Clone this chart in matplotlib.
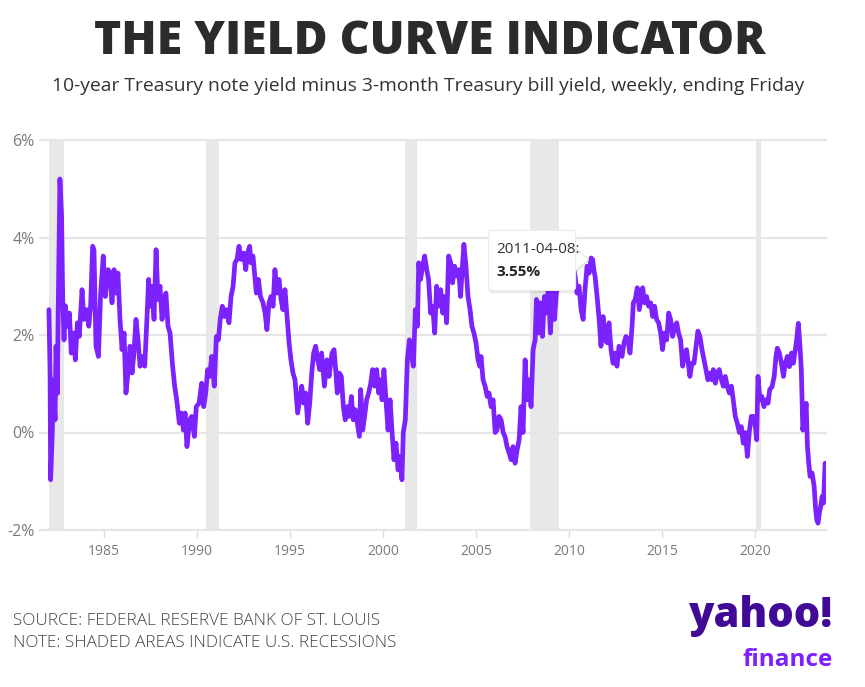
""" Yield curve indicator: 10y minus 3m Treasury spread, weekly """

import numpy as np
import matplotlib
matplotlib.use("Agg")
import matplotlib.pyplot as plt
from matplotlib.patches import Polygon, FancyBboxPatch
from matplotlib.transforms import IdentityTransform
import matplotlib.patheffects as pe

plt.rcParams['font.family'] = ['Open Sans', 'DejaVu Sans']

# decimal year of each reading
dates = [
    1982.04, 1982.10, 1982.13, 1982.22, 1982.28, 1982.37, 1982.42, 1982.49, 1982.54, 1982.63,
    1982.72, 1982.78, 1982.85, 1982.92, 1983.03, 1983.14, 1983.24, 1983.35, 1983.46, 1983.57,
    1983.67, 1983.82, 1983.92, 1984.07, 1984.18, 1984.28, 1984.39, 1984.46, 1984.57, 1984.70,
    1984.82, 1984.96, 1985.07, 1985.22, 1985.32, 1985.43, 1985.54, 1985.65, 1985.75, 1985.86,
    1985.97, 1986.08, 1986.18, 1986.29, 1986.40, 1986.51, 1986.61, 1986.72, 1986.83, 1986.94,
    1987.04, 1987.19, 1987.29, 1987.40, 1987.47, 1987.58, 1987.69, 1987.80, 1987.90, 1988.01,
    1988.12, 1988.23, 1988.33, 1988.44, 1988.55, 1988.69, 1988.80, 1988.91, 1989.05, 1989.16,
    1989.27, 1989.36, 1989.46, 1989.61, 1989.71, 1989.86, 1989.96, 1990.11, 1990.25, 1990.36,
    1990.47, 1990.57, 1990.68, 1990.79, 1990.93, 1991.04, 1991.15, 1991.25, 1991.36, 1991.47,
    1991.58, 1991.72, 1991.83, 1991.94, 1992.04, 1992.15, 1992.26, 1992.37, 1992.51, 1992.62,
    1992.72, 1992.83, 1992.90, 1993.01, 1993.12, 1993.19, 1993.30, 1993.41, 1993.55, 1993.66,
    1993.76, 1993.87, 1993.98, 1994.09, 1994.19, 1994.30, 1994.41, 1994.52, 1994.62, 1994.73,
    1994.84, 1994.95, 1995.05, 1995.16, 1995.27, 1995.41, 1995.52, 1995.63, 1995.74, 1995.84,
    1995.95, 1996.06, 1996.17, 1996.27, 1996.38, 1996.49, 1996.60, 1996.70, 1996.85, 1996.99,
    1997.10, 1997.26, 1997.37, 1997.47, 1997.54, 1997.65, 1997.76, 1997.87, 1997.97, 1998.08,
    1998.19, 1998.30, 1998.40, 1998.51, 1998.62, 1998.73, 1998.80, 1998.91, 1999.01, 1999.12,
    1999.23, 1999.34, 1999.44, 1999.55, 1999.66, 1999.77, 1999.87, 1999.95, 2000.05, 2000.16,
    2000.27, 2000.38, 2000.48, 2000.59, 2000.70, 2000.81, 2000.91, 2001.02, 2001.09, 2001.20,
    2001.31, 2001.42, 2001.52, 2001.63, 2001.74, 2001.85, 2001.92, 2002.02, 2002.13, 2002.24,
    2002.35, 2002.45, 2002.56, 2002.67, 2002.78, 2002.88, 2002.99, 2003.10, 2003.21, 2003.31,
    2003.42, 2003.53, 2003.64, 2003.74, 2003.85, 2003.96, 2004.07, 2004.17, 2004.28, 2004.35,
    2004.46, 2004.57, 2004.68, 2004.78, 2004.89, 2005.00, 2005.11, 2005.20, 2005.27, 2005.38,
    2005.49, 2005.60, 2005.70, 2005.81, 2005.92, 2006.03, 2006.13, 2006.24, 2006.35, 2006.46,
    2006.56, 2006.67, 2006.78, 2006.89, 2006.99, 2007.10, 2007.21, 2007.32, 2007.42, 2007.53,
    2007.64, 2007.75, 2007.85, 2007.96, 2008.07, 2008.18, 2008.25, 2008.35, 2008.46, 2008.57,
    2008.68, 2008.79, 2008.89, 2009.00, 2009.11, 2009.22, 2009.32, 2009.45, 2009.60, 2009.75,
    2009.90, 2010.05, 2010.20, 2010.33, 2010.43, 2010.54, 2010.65, 2010.76, 2010.86, 2010.97,
    2011.08, 2011.19, 2011.27, 2011.35, 2011.40, 2011.51, 2011.62, 2011.72, 2011.83, 2011.94,
    2012.05, 2012.15, 2012.26, 2012.37, 2012.48, 2012.58, 2012.69, 2012.85, 2012.96, 2013.06,
    2013.17, 2013.28, 2013.39, 2013.46, 2013.56, 2013.67, 2013.78, 2013.89, 2013.96, 2014.07,
    2014.17, 2014.28, 2014.39, 2014.50, 2014.60, 2014.71, 2014.82, 2014.93, 2015.03, 2015.14,
    2015.25, 2015.36, 2015.46, 2015.57, 2015.68, 2015.79, 2015.89, 2016.00, 2016.11, 2016.22,
    2016.32, 2016.43, 2016.50, 2016.61, 2016.72, 2016.83, 2016.93, 2017.04, 2017.15, 2017.26,
    2017.36, 2017.47, 2017.58, 2017.69, 2017.76, 2017.87, 2017.97, 2018.08, 2018.19, 2018.30,
    2018.40, 2018.51, 2018.62, 2018.73, 2018.83, 2018.94, 2019.05, 2019.16, 2019.26, 2019.37,
    2019.48, 2019.59, 2019.69, 2019.80, 2019.91, 2020.02, 2020.09, 2020.16, 2020.27, 2020.37,
    2020.48, 2020.59, 2020.70, 2020.79, 2020.92, 2021.03, 2021.13, 2021.20, 2021.31, 2021.42,
    2021.53, 2021.63, 2021.74, 2021.85, 2021.96, 2022.06, 2022.17, 2022.24, 2022.33, 2022.42,
    2022.49, 2022.57, 2022.67, 2022.75, 2022.82, 2022.89, 2022.96, 2023.07, 2023.18, 2023.25,
    2023.32, 2023.39, 2023.46, 2023.53, 2023.61, 2023.68, 2023.77,
]

# 10-year minus 3-month spread, percentage points
spread = [
    2.52, 1.22, -0.97, 0.00, 1.08, 0.26, 1.77, 0.80, 2.60, 5.20,
    4.44, 2.73, 1.90, 2.60, 2.18, 2.45, 1.63, 2.04, 1.49, 2.25,
    1.97, 2.93, 2.32, 2.52, 2.18, 2.59, 3.82, 3.75, 1.77, 1.56,
    2.86, 3.62, 2.79, 3.34, 3.27, 2.66, 3.34, 2.86, 3.27, 2.32,
    1.70, 2.04, 0.81, 1.22, 1.77, 1.22, 1.63, 2.32, 1.90, 1.36,
    1.56, 1.36, 2.18, 3.14, 2.59, 3.00, 2.32, 3.75, 2.73, 3.00,
    2.32, 2.73, 2.86, 2.18, 2.04, 1.36, 0.95, 0.67, 0.19, 0.40,
    0.05, 0.40, -0.29, 0.26, 0.33, -0.08, 0.53, 0.60, 1.01, 0.53,
    0.81, 1.29, 1.15, 1.56, 0.95, 1.97, 1.90, 2.32, 2.59, 2.38,
    2.52, 2.25, 2.79, 3.00, 3.48, 3.55, 3.82, 3.55, 3.68, 3.34,
    3.68, 3.82, 3.48, 3.62, 3.14, 2.86, 3.14, 2.79, 2.66, 2.45,
    2.11, 2.66, 2.79, 2.59, 3.34, 2.86, 3.14, 2.73, 2.52, 2.93,
    2.38, 1.84, 1.49, 1.22, 1.08, 0.40, 0.67, 0.95, 0.60, 0.81,
    0.19, 0.60, 1.22, 1.63, 1.77, 1.49, 1.29, 1.63, 0.95, 1.49,
    1.15, 1.63, 1.70, 1.22, 0.81, 1.22, 1.15, 0.53, 0.26, 0.53,
    0.33, 0.74, 0.26, 0.47, 0.19, -0.08, 0.88, 0.05, 0.33, 0.67,
    0.81, 1.01, 1.29, 0.95, 1.29, 0.81, 1.08, 0.67, 1.29, 0.67,
    0.05, 0.67, 0.05, -0.56, -0.22, -0.77, -0.49, -0.97, 0.00, 0.26,
    1.49, 1.90, 1.63, 1.36, 2.52, 2.18, 3.48, 3.14, 3.41, 3.62,
    3.34, 3.14, 2.45, 2.59, 2.04, 3.00, 2.59, 2.93, 2.45, 2.79,
    2.25, 3.62, 3.48, 3.07, 3.41, 3.21, 3.34, 2.79, 3.48, 3.86,
    3.41, 2.79, 2.52, 2.18, 2.04, 1.84, 1.49, 1.36, 1.56, 1.08,
    0.95, 0.74, 0.81, 0.53, 0.67, 0.00, 0.05, 0.33, 0.26, 0.00,
    -0.08, -0.29, -0.42, -0.56, -0.29, -0.63, -0.36, -0.15, 0.53, 0.00,
    1.49, 0.67, 1.08, 0.53, 1.70, 1.90, 2.73, 2.04, 2.66, 1.97,
    2.79, 2.45, 3.00, 2.04, 2.93, 2.32, 2.86, 3.10, 3.35, 3.25,
    3.45, 3.55, 3.45, 3.21, 2.86, 3.00, 2.52, 2.32, 2.93, 3.41,
    3.27, 3.58, 3.55, 3.30, 3.21, 2.79, 2.32, 1.77, 2.38, 1.90,
    1.84, 2.25, 1.70, 1.42, 1.63, 1.36, 1.77, 1.56, 1.84, 1.97,
    1.90, 1.63, 2.18, 2.66, 2.73, 2.97, 2.52, 2.79, 2.97, 2.66,
    2.79, 2.59, 2.66, 2.38, 2.59, 2.32, 2.25, 2.04, 1.70, 2.04,
    1.90, 2.45, 2.32, 1.97, 2.18, 2.25, 2.04, 1.90, 1.36, 1.63,
    1.70, 1.36, 1.15, 1.42, 1.42, 1.77, 2.08, 1.97, 1.70, 1.49,
    1.29, 1.08, 1.22, 1.08, 1.29, 1.01, 1.22, 1.29, 1.08, 0.95,
    1.15, 0.95, 0.81, 0.95, 0.67, 0.33, 0.19, 0.00, 0.12, -0.22,
    0.00, -0.49, 0.00, 0.33, 0.33, 0.12, -0.15, 1.15, 0.67, 0.74,
    0.53, 0.67, 0.60, 0.88, 0.94, 1.15, 1.56, 1.73, 1.63, 1.42,
    1.15, 1.42, 1.56, 1.35, 1.63, 1.42, 1.70, 1.90, 2.24, 1.76,
    1.29, 0.05, 0.33, 0.60, -0.29, -0.63, -0.90, -0.83, -1.11, -1.52,
    -1.79, -1.86, -1.65, -1.52, -1.31, -1.45, -0.63,
]

# NBER recessions (decimal years)
rec_start = [1981.50, 1990.50, 2001.17, 2007.92, 2020.08]
rec_end = [1982.87, 1991.17, 2001.84, 2009.46, 2020.30]

x_ticks = [1985, 1990, 1995, 2000, 2005, 2010, 2015, 2020]
y_ticks = [-2, 0, 2, 4, 6]

tip_date, tip_label, tip_value = 2011.27, "2011-04-08:", 3.55

assert len(dates) == len(spread)

W, H = 865, 687
fig = plt.figure(figsize=(W / 100, H / 100), dpi=100)
ax = fig.add_axes([40 / W, 157 / H, 786 / W, 390 / H])

purple = '#7B22FF'
grid_c = '#e6e6e6'

for s, e in zip(rec_start, rec_end):
    ax.axvspan(max(s, dates[0]), e, color='#e8e8e8', lw=0, zorder=0)

for yv in y_ticks:
    ax.axhline(yv, color=grid_c, lw=1.6, zorder=0.5, clip_on=False)

ax.plot(dates, spread, color=purple, lw=3.4, solid_joinstyle='round',
        solid_capstyle='round', zorder=3)

ax.set_xlim(1985 - 64 / 18.6, 1985 + 722 / 18.6)
ax.set_ylim(-2, 6)
for sp in ax.spines.values():
    sp.set_visible(False)

ax.set_xticks(x_ticks)
ax.set_xticklabels([str(t) for t in x_ticks])
ax.set_yticks(y_ticks)
ax.set_yticklabels(['{}%'.format(t) for t in y_ticks])
ax.tick_params(axis='x', length=6, width=1, color='#dddddd', pad=4,
               labelsize=10, labelcolor='#7a7a7a')
ax.tick_params(axis='y', length=0, pad=4, labelsize=11.5, labelcolor='#7a7a7a')

# tooltip
fig.canvas.draw()
px, py = ax.transData.transform((tip_date, tip_value))
shadow = [pe.SimplePatchShadow(offset=(0, -2), shadow_rgbFace='black', alpha=0.08),
          pe.Normal()]
tri = Polygon([(px - 18, py + 12), (px - 4, py), (px - 18, py - 12)],
              closed=True, transform=IdentityTransform(), fc='white',
              ec='#e4e4e4', lw=0.8, zorder=5)
tri.set_path_effects(shadow)
fig.patches.append(tri)
box = FancyBboxPatch((px - 104, py - 31), 87, 60,
                     boxstyle='round,pad=0,rounding_size=4',
                     transform=IdentityTransform(), fc='white', ec='#ececec',
                     lw=0.8, zorder=6)
box.set_path_effects(shadow)
fig.patches.append(box)
fig.text((px - 96) / W, (py + 10) / H, tip_label, fontsize=11, color='#333333',
         ha='left', va='center', zorder=7)
fig.text((px - 96) / W, (py - 13) / H, '{:.2f}%'.format(tip_value), fontsize=11,
         color='#222222', fontweight='bold', ha='left', va='center', zorder=7)

# titles
fig.text(430 / W, 1 - 42 / H, 'THE YIELD CURVE INDICATOR', fontsize=33.3,
         fontweight='heavy', color='#2b2b2b', ha='center', va='center')
fig.text(428 / W, 1 - 86 / H,
         '10-year Treasury note yield minus 3-month Treasury bill yield, weekly, ending Friday',
         fontsize=13.9, color='#333333', ha='center', va='center')

# footer
fig.text(13 / W, 1 - 621 / H, 'SOURCE: FEDERAL RESERVE BANK OF ST. LOUIS',
         fontsize=12.3, color='#444444', ha='left', va='center', fontweight='light')
fig.text(13 / W, 1 - 643 / H, 'NOTE: SHADED AREAS INDICATE U.S. RECESSIONS',
         fontsize=12.3, color='#444444', ha='left', va='center', fontweight='light')
fig.text(833 / W, 1 - 627 / H, 'yahoo!', fontsize=30, fontweight='heavy',
         color='#410A96', ha='right', va='baseline')
fig.text(833 / W, 1 - 666 / H, 'finance', fontsize=17.5, fontweight='bold',
         color='#7E1FFF', ha='right', va='baseline')

fig.savefig('out.png', dpi=100)
